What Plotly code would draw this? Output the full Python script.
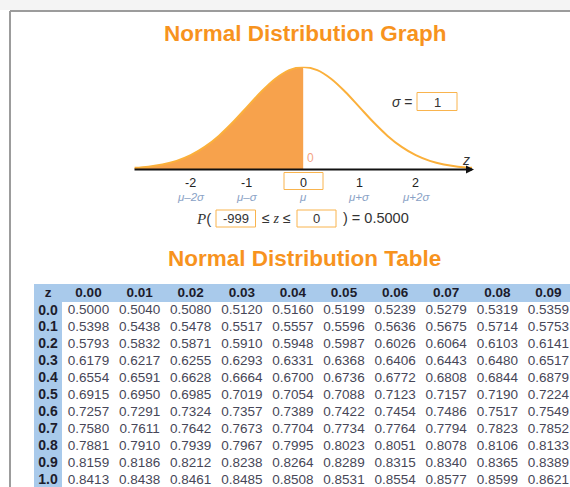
import plotly.graph_objects as go

W, H = 570, 487

# ---------------- data ----------------
mu = 0
sigma = 1
curve_z = [-3.0, -2.75, -2.5, -2.25, -2.0, -1.75, -1.5, -1.25, -1.0, -0.75, -0.5, -0.25, 0.0,
           0.25, 0.5, 0.75, 1.0, 1.25, 1.5, 1.75, 2.0, 2.25, 2.5, 2.75, 3.0]
curve_density = [0.0044, 0.0091, 0.0175, 0.0317, 0.0540, 0.0863, 0.1295, 0.1826, 0.2420, 0.3011,
                 0.3521, 0.3867, 0.3989, 0.3867, 0.3521, 0.3011, 0.2420, 0.1826, 0.1295, 0.0863,
                 0.0540, 0.0317, 0.0175, 0.0091, 0.0044]
lower_bound_label = "-999"
upper_bound = 0
probability_label = "0.5000"
axis_tick_values = [-2, -1, 0, 1, 2]
axis_tick_numbers = ["-2", "-1", "0", "1", "2"]
axis_tick_symbols = ["μ–2σ", "μ–σ", "μ", "μ+σ", "μ+2σ"]

table_col_headers = ["0.00", "0.01", "0.02", "0.03", "0.04", "0.05", "0.06", "0.07", "0.08", "0.09"]
table_row_labels = ["0.0", "0.1", "0.2", "0.3", "0.4", "0.5", "0.6", "0.7", "0.8", "0.9", "1.0"]
table_values = [
    ["0.5000", "0.5040", "0.5080", "0.5120", "0.5160", "0.5199", "0.5239", "0.5279", "0.5319", "0.5359"],
    ["0.5398", "0.5438", "0.5478", "0.5517", "0.5557", "0.5596", "0.5636", "0.5675", "0.5714", "0.5753"],
    ["0.5793", "0.5832", "0.5871", "0.5910", "0.5948", "0.5987", "0.6026", "0.6064", "0.6103", "0.6141"],
    ["0.6179", "0.6217", "0.6255", "0.6293", "0.6331", "0.6368", "0.6406", "0.6443", "0.6480", "0.6517"],
    ["0.6554", "0.6591", "0.6628", "0.6664", "0.6700", "0.6736", "0.6772", "0.6808", "0.6844", "0.6879"],
    ["0.6915", "0.6950", "0.6985", "0.7019", "0.7054", "0.7088", "0.7123", "0.7157", "0.7190", "0.7224"],
    ["0.7257", "0.7291", "0.7324", "0.7357", "0.7389", "0.7422", "0.7454", "0.7486", "0.7517", "0.7549"],
    ["0.7580", "0.7611", "0.7642", "0.7673", "0.7704", "0.7734", "0.7764", "0.7794", "0.7823", "0.7852"],
    ["0.7881", "0.7910", "0.7939", "0.7967", "0.7995", "0.8023", "0.8051", "0.8078", "0.8106", "0.8133"],
    ["0.8159", "0.8186", "0.8212", "0.8238", "0.8264", "0.8289", "0.8315", "0.8340", "0.8365", "0.8389"],
    ["0.8413", "0.8438", "0.8461", "0.8485", "0.8508", "0.8531", "0.8554", "0.8577", "0.8599", "0.8621"],
]

# ---------------- style / layout constants ----------------
SANS = "Liberation Sans, Arial, sans-serif"
ORANGE_TITLE = "#F7931E"
FILL_ORANGE = "#F7A24C"
LINE_ORANGE = "#FBB03B"
BOX_ORANGE = "#F9B44E"
BLUE = "#A9CAEB"
SYM_BLUE = "#8AA2C6"
VAL_COLOR = "#474758"
HEAD_COLOR = "#1C1C2C"

# curve area (pixels)
Z_LEFT_PX, Z_RIGHT_PX = 134.4, 472.0
BASE_PY, TOP_PY = 169.0, 66.7   # density 0 and 0.4
# table geometry (pixels)
COL0_PX, COL_W = 88.5, 51.1
LABEL_PX = 48.0
ROW0_PY, ROW_H = 311.0, 16.97


def PX(x):
    return x / W


def PY(y):
    return 1 - y / H


annotations = []
shapes = []


def txt(x, y, s, size=13, color="#222", family=SANS, xanchor="center"):
    annotations.append(dict(x=PX(x), y=PY(y), xref="paper", yref="paper", text=s,
                            showarrow=False, xanchor=xanchor, yanchor="middle",
                            font=dict(size=size, color=color, family=family)))


def rect(x0, y0, x1, y1, line=None, fill=None, layer="above", width=1):
    shapes.append(dict(type="rect", xref="paper", yref="paper",
                       x0=PX(x0), x1=PX(x1), y0=PY(y1), y1=PY(y0),
                       line=dict(color=line or "rgba(0,0,0,0)", width=width if line else 0),
                       fillcolor=fill or "rgba(0,0,0,0)", layer=layer))


fig = go.Figure()

# ---- curve ----
shade_z = [z for z in curve_z if z <= upper_bound]
shade_d = [d for z, d in zip(curve_z, curve_density) if z <= upper_bound]
fig.add_trace(go.Scatter(x=shade_z, y=shade_d, mode="lines", fill="tozeroy",
                         fillcolor=FILL_ORANGE, line=dict(width=0, shape="spline", color=FILL_ORANGE),
                         hoverinfo="skip", showlegend=False, xaxis="x", yaxis="y"))
fig.add_trace(go.Scatter(x=curve_z, y=curve_density, mode="lines",
                         line=dict(width=2, shape="spline", color=LINE_ORANGE),
                         hoverinfo="skip", showlegend=False, xaxis="x", yaxis="y"))

# ---- table as text traces ----
LABEL_COL_X = (LABEL_PX - COL0_PX) / COL_W
HEADER_ROW_Y = -1
n_cols = len(table_col_headers)
fig.add_trace(go.Scatter(
    x=[LABEL_COL_X] + list(range(n_cols)), y=[HEADER_ROW_Y] * (n_cols + 1),
    text=["<b>z</b>"] + [f"<b>{h}</b>" for h in table_col_headers],
    mode="text", textposition="middle center", cliponaxis=False,
    textfont=dict(size=13.5, color=HEAD_COLOR, family=SANS),
    hoverinfo="skip", showlegend=False, xaxis="x3", yaxis="y3"))
fig.add_trace(go.Scatter(
    x=[LABEL_COL_X] * len(table_row_labels), y=list(range(len(table_row_labels))),
    text=[f"<b>{r}</b>" for r in table_row_labels],
    mode="text", textposition="middle center", cliponaxis=False,
    textfont=dict(size=14, color=HEAD_COLOR, family=SANS),
    hoverinfo="skip", showlegend=False, xaxis="x3", yaxis="y3"))
vx, vy, vt = [], [], []
for i, row in enumerate(table_values):
    for j, v in enumerate(row):
        vx.append(j)
        vy.append(i)
        vt.append(v)
fig.add_trace(go.Scatter(
    x=vx, y=vy, text=vt, mode="text", textposition="middle center", cliponaxis=False,
    textfont=dict(size=13.5, color=VAL_COLOR, family=SANS),
    hoverinfo="skip", showlegend=False, xaxis="x3", yaxis="y3"))

# ---- frame ----
rect(0, 0, W, 10, fill="#F4F4F4", layer="below")
shapes.append(dict(type="line", xref="paper", yref="paper", x0=PX(10), x1=1, y0=PY(11), y1=PY(11),
                   line=dict(color="#9C9C9C", width=2), layer="below"))
shapes.append(dict(type="line", xref="paper", yref="paper", x0=PX(10), x1=PX(10), y0=PY(11), y1=0,
                   line=dict(color="#9C9C9C", width=2), layer="below"))

# ---- titles ----
txt(305, 33, "<b>Normal Distribution Graph</b>", size=22.5, color=ORANGE_TITLE)
txt(304, 258, "<b>Normal Distribution Table</b>", size=22.5, color=ORANGE_TITLE)

# ---- axis line with arrow ----
annotations.append(dict(x=PX(474), y=PY(169.5), xref="paper", yref="paper", text="",
                        showarrow=True, ax=-(474 - 133), ay=0, axref="pixel", ayref="pixel",
                        arrowhead=2, arrowsize=0.8, arrowwidth=2, arrowcolor="#111", standoff=0))
txt(466, 160, "<i>z</i>", size=14, color="#333")

# bound label on the curve
annotations.append(dict(x=upper_bound, y=0, xref="x", yref="y", text=str(upper_bound),
                        showarrow=False, xanchor="center", yanchor="middle", xshift=7, yshift=11,
                        font=dict(size=12, color="#F4A382", family=SANS)))

# ---- tick labels ----
rect(284, 172.5, 323, 189.5, line=BOX_ORANGE, fill="white")
for v, n, s in zip(axis_tick_values, axis_tick_numbers, axis_tick_symbols):
    annotations.append(dict(x=v, y=PY(182.5), xref="x", yref="paper", text=n, showarrow=False,
                            xanchor="center", yanchor="middle", borderpad=0,
                            font=dict(size=12.5, color="#222", family=SANS)))
    annotations.append(dict(x=v, y=PY(196.5), xref="x", yref="paper", text=f"<i>{s}</i>",
                            showarrow=False, xanchor="center", yanchor="middle", borderpad=0,
                            font=dict(size=11.5, color=SYM_BLUE, family=SANS)))

# ---- sigma box ----
txt(402, 102, "<i>σ</i> =", size=14, color="#333")
rect(417, 92.5, 457, 110.5, line=BOX_ORANGE, fill="white")
txt(437, 102, str(sigma), size=13, color="#333")

# ---- probability line ----
txt(203, 218.5, "<i><span style=\"font-family:Liberation Serif\">P</span></i>(", size=15, color="#333")
rect(216, 210, 255.5, 227, line=BOX_ORANGE, fill="white")
txt(236, 218.5, lower_bound_label, size=13, color="#333")
txt(276, 218.5, "≤ <i><span style=\"font-family:Liberation Serif\">z</span></i> ≤", size=14, color="#333")
rect(297, 210, 336, 227, line=BOX_ORANGE, fill="white")
txt(316.5, 218.5, str(upper_bound), size=13, color="#333")
txt(376, 218.5, f") = {probability_label}", size=14.5, color="#333")

# ---- table backgrounds ----
rect(34, 284, W + 2, 302, fill=BLUE, layer="below")
rect(34, 284, 62, H + 2, fill=BLUE, layer="below")

# ---- axes ----
y_top_val = 0.4
layout_axes = dict(
    xaxis=dict(domain=[PX(Z_LEFT_PX), PX(Z_RIGHT_PX)], range=[-3, 3], visible=False, anchor="y"),
    yaxis=dict(domain=[PY(BASE_PY), PY(TOP_PY)], range=[0, y_top_val], visible=False, anchor="x"),
    xaxis3=dict(domain=[0, 1], range=[(0 - COL0_PX) / COL_W, (W - COL0_PX) / COL_W],
                visible=False, anchor="y3"),
    yaxis3=dict(domain=[0, 1], range=[(H - ROW0_PY) / ROW_H, (0 - ROW0_PY) / ROW_H],
                visible=False, anchor="x3"),
)

fig.update_layout(
    width=W, height=H, margin=dict(l=0, r=0, t=0, b=0),
    paper_bgcolor="white", plot_bgcolor="rgba(0,0,0,0)",
    showlegend=False, shapes=shapes, annotations=annotations,
    **layout_axes,
)

fig.write_html(
    "out.html",
    config={"displayModeBar": False},
    post_script="document.body.style.margin='0';document.body.style.overflow='hidden';",
)
